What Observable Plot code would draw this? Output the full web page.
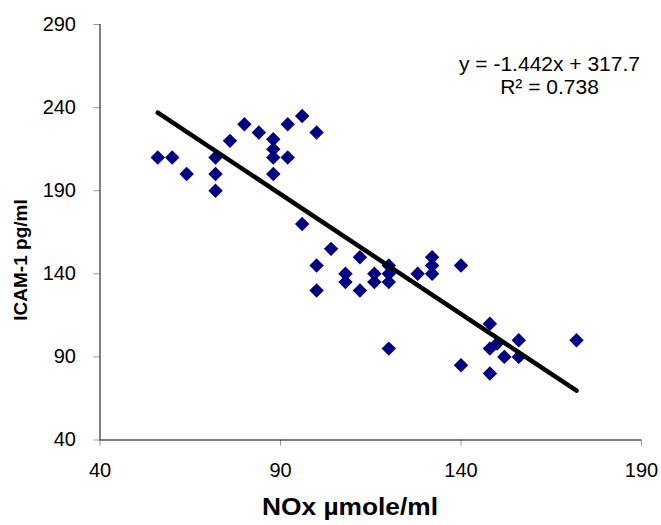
<!DOCTYPE html>
<html>
<head>
<meta charset="utf-8">
<script src="https://cdn.jsdelivr.net/npm/d3@7"></script>
<script src="https://cdn.jsdelivr.net/npm/@observablehq/plot@0.6"></script>
<style>
  body { margin: 0; background: #fff; }
  #chart { width: 661px; height: 525px; }
</style>
</head>
<body>
<div id="chart"></div>
<script>
const noxValues = [56,60,64,72,72,72,76,80,84,88,88,88,88,92,92,96,100,96,104,100,100,108,108,112,112,116,116,120,120,120,128,132,132,132,140,120,140,148,148,150,156,152,156,172,148];
const icamValues = [210,210,200,210,200,190,220,230,225,221,215,210,200,230,210,235,225,170,155,145,130,140,135,150,130,140,135,145,140,135,140,150,145,140,145,95,85,110,95,98,100,90,90,100,80];
const trendCoefficients = [-1.442, 317.7];
const rSquared = 0.738;
const xTicks = [40, 90, 140, 190];
const yTicks = [40, 90, 140, 190, 240, 290];
const xTitle = "NOx µmole/ml";
const yTitle = "ICAM-1 pg/ml";
const equationLines = ["y = -1.442x + 317.7", "R² = 0.738"];

const points = noxValues.map((x, i) => ({x, y: icamValues[i]}));
const [slope, intercept] = trendCoefficients;
const xMin = d3.min(noxValues), xMax = d3.max(noxValues);
const trend = [xMin, xMax].map(x => ({x, y: slope * x + intercept}));

const font = "'Liberation Sans', Arial, sans-serif";

const chart = Plot.plot({
  width: 661,
  height: 525,
  marginLeft: 99.5,
  marginRight: 20,
  marginTop: 24,
  marginBottom: 85.5,
  style: {fontFamily: font, fontSize: "20px", color: "#000", background: "#fff"},
  x: {domain: [40, 190]},
  y: {domain: [40, 290]},
  marks: [
    Plot.axisY(yTicks, {tickSize: 6, tickPadding: 18, fontSize: 20, label: null, stroke: "#999"}),
    Plot.axisX(xTicks, {tickSize: 6, tickPadding: 17, fontSize: 20, label: null, stroke: "#999"}),
    Plot.ruleX([40], {stroke: "#000", strokeWidth: 1}),
    Plot.ruleY([40], {stroke: "#000", strokeWidth: 1}),
    Plot.dot(points, {x: "x", y: "y", symbol: "diamond2", r: 6.5, fill: "#000080", stroke: "none"}),
    Plot.line(trend, {x: "x", y: "y", stroke: "#000", strokeWidth: 4.5, strokeLinecap: "round"}),
    Plot.text([equationLines[0]], {frameAnchor: "top-left", dx: 449.5, dy: 40, lineAnchor: "middle", text: d => d, fontSize: 21, textAnchor: "middle", fill: "#000"}),
    Plot.text([equationLines[1]], {frameAnchor: "top-left", dx: 449.5, dy: 63, lineAnchor: "middle", text: d => d, fontSize: 21, textAnchor: "middle", fill: "#000"})
  ]
});

const svg = d3.select(chart);
svg.append("text")
  .attr("x", 350).attr("y", 515)
  .attr("text-anchor", "middle")
  .attr("font-family", font).attr("font-weight", "bold").attr("font-size", 24)
  .attr("textLength", 176).attr("lengthAdjust", "spacingAndGlyphs")
  .text(xTitle);
svg.append("text")
  .attr("transform", "translate(27,260) rotate(-90)")
  .attr("text-anchor", "middle")
  .attr("font-family", font).attr("font-weight", "bold").attr("font-size", 19)
  .text(yTitle);

document.getElementById("chart").appendChild(chart);
</script>
</body>
</html>
